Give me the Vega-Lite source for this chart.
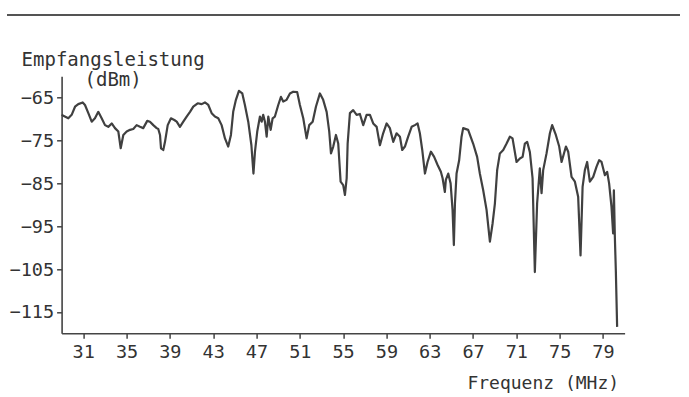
{
  "$schema": "https://vega.github.io/schema/vega-lite/v6.json",
  "width": 563,
  "height": 257,
  "autosize": "none",
  "padding": {"left": 61.6, "top": 76.3, "right": 64.4, "bottom": 63.7},
  "background": "white",
  "config": {
    "view": {"stroke": null},
    "axis": {
      "grid": false,
      "domainColor": "#444444",
      "domainWidth": 1.6,
      "tickColor": "#444444",
      "tickWidth": 1.5,
      "tickSize": 5,
      "labelColor": "#333333",
      "labelFont": "DejaVu Sans Mono",
      "labelFontSize": 18.5,
      "titleFont": "DejaVu Sans Mono",
      "titleFontSize": 18,
      "titleFontWeight": "normal",
      "titleColor": "#333333"
    }
  },
  "data": {"values": [
    {"f":29.0,"p":-69.0},{"f":29.16,"p":-69.2},{"f":29.62,"p":-69.8},{"f":29.93,"p":-69.0},{"f":30.24,"p":-67.1},{"f":30.54,"p":-66.5},{"f":30.95,"p":-66.1},{"f":31.16,"p":-66.7},{"f":31.47,"p":-68.6},{"f":31.78,"p":-70.6},
    {"f":32.08,"p":-69.8},{"f":32.39,"p":-68.3},{"f":32.70,"p":-69.8},{"f":33.01,"p":-71.4},{"f":33.31,"p":-71.8},{"f":33.63,"p":-71.0},{"f":33.93,"p":-72.1},{"f":34.24,"p":-72.9},{"f":34.46,"p":-76.8},{"f":34.70,"p":-73.7},
    {"f":35.01,"p":-72.9},{"f":35.32,"p":-72.5},{"f":35.62,"p":-72.3},{"f":35.93,"p":-71.4},{"f":36.24,"p":-71.8},{"f":36.54,"p":-72.1},{"f":36.91,"p":-70.4},{"f":37.16,"p":-70.6},{"f":37.47,"p":-71.4},{"f":37.78,"p":-72.1},
    {"f":37.93,"p":-72.3},{"f":38.09,"p":-73.7},{"f":38.18,"p":-76.8},{"f":38.39,"p":-77.2},{"f":38.55,"p":-75.3},{"f":38.80,"p":-71.4},{"f":39.10,"p":-69.8},{"f":39.41,"p":-70.2},{"f":39.63,"p":-70.6},{"f":39.93,"p":-71.8},
    {"f":40.24,"p":-70.6},{"f":40.55,"p":-69.4},{"f":40.86,"p":-68.3},{"f":41.16,"p":-67.1},{"f":41.57,"p":-66.3},{"f":41.94,"p":-66.5},{"f":42.24,"p":-66.1},{"f":42.55,"p":-66.7},{"f":42.86,"p":-68.6},{"f":43.16,"p":-69.4},
    {"f":43.47,"p":-69.8},{"f":43.78,"p":-71.4},{"f":44.09,"p":-74.5},{"f":44.39,"p":-76.4},{"f":44.64,"p":-73.7},{"f":44.85,"p":-68.3},{"f":45.10,"p":-65.5},{"f":45.38,"p":-63.4},{"f":45.69,"p":-64.0},{"f":45.93,"p":-66.7},
    {"f":46.24,"p":-70.6},{"f":46.53,"p":-76.1},{"f":46.72,"p":-82.7},{"f":46.86,"p":-77.6},{"f":47.07,"p":-72.9},{"f":47.32,"p":-69.4},{"f":47.48,"p":-70.6},{"f":47.62,"p":-69.0},{"f":47.78,"p":-70.6},{"f":47.94,"p":-74.1},
    {"f":48.09,"p":-69.4},{"f":48.31,"p":-72.5},{"f":48.49,"p":-69.8},{"f":48.70,"p":-69.4},{"f":49.01,"p":-66.7},{"f":49.26,"p":-64.8},{"f":49.47,"p":-65.9},{"f":49.78,"p":-65.5},{"f":50.09,"p":-64.0},{"f":50.39,"p":-63.6},
    {"f":50.76,"p":-63.7},{"f":51.01,"p":-66.7},{"f":51.32,"p":-69.8},{"f":51.63,"p":-74.5},{"f":51.87,"p":-71.4},{"f":52.19,"p":-70.6},{"f":52.49,"p":-67.1},{"f":52.86,"p":-64.0},{"f":53.16,"p":-65.5},{"f":53.48,"p":-68.3},
    {"f":53.72,"p":-72.9},{"f":53.88,"p":-78.0},{"f":54.09,"p":-76.4},{"f":54.34,"p":-73.7},{"f":54.55,"p":-75.7},{"f":54.77,"p":-84.6},{"f":55.01,"p":-85.4},{"f":55.17,"p":-87.7},{"f":55.33,"p":-83.8},{"f":55.42,"p":-75.7},
    {"f":55.63,"p":-68.6},{"f":55.93,"p":-67.9},{"f":56.25,"p":-69.0},{"f":56.55,"p":-68.8},{"f":56.86,"p":-71.4},{"f":57.17,"p":-69.0},{"f":57.48,"p":-69.0},{"f":57.78,"p":-71.0},{"f":58.10,"p":-71.8},{"f":58.40,"p":-76.1},
    {"f":58.70,"p":-73.3},{"f":59.02,"p":-71.0},{"f":59.32,"p":-72.1},{"f":59.63,"p":-75.3},{"f":59.94,"p":-73.3},{"f":60.25,"p":-74.1},{"f":60.46,"p":-77.2},{"f":60.71,"p":-76.4},{"f":61.01,"p":-74.1},{"f":61.33,"p":-71.8},
    {"f":61.63,"p":-71.4},{"f":61.88,"p":-71.0},{"f":62.09,"p":-73.3},{"f":62.31,"p":-77.2},{"f":62.56,"p":-82.7},{"f":62.80,"p":-80.0},{"f":63.11,"p":-77.6},{"f":63.41,"p":-78.8},{"f":63.73,"p":-80.7},{"f":64.03,"p":-82.3},
    {"f":64.19,"p":-83.8},{"f":64.40,"p":-87.0},{"f":64.49,"p":-84.2},{"f":64.71,"p":-82.7},{"f":64.93,"p":-85.0},{"f":65.11,"p":-91.2},{"f":65.23,"p":-99.4},{"f":65.33,"p":-89.7},{"f":65.48,"p":-82.7},{"f":65.72,"p":-79.6},
    {"f":65.94,"p":-74.1},{"f":66.09,"p":-72.1},{"f":66.55,"p":-72.5},{"f":67.01,"p":-75.7},{"f":67.38,"p":-78.8},{"f":67.63,"p":-82.7},{"f":67.94,"p":-86.6},{"f":68.25,"p":-91.2},{"f":68.56,"p":-98.6},{"f":68.81,"p":-94.3},
    {"f":69.02,"p":-89.7},{"f":69.23,"p":-81.9},{"f":69.48,"p":-78.0},{"f":69.79,"p":-77.2},{"f":70.10,"p":-75.7},{"f":70.40,"p":-74.1},{"f":70.65,"p":-74.5},{"f":71.02,"p":-80.0},{"f":71.33,"p":-79.2},{"f":71.58,"p":-78.8},
    {"f":71.79,"p":-75.7},{"f":72.00,"p":-75.3},{"f":72.25,"p":-77.7},{"f":72.50,"p":-83.8},{"f":72.71,"p":-105.7},{"f":72.92,"p":-89.7},{"f":73.17,"p":-81.5},{"f":73.33,"p":-87.3},{"f":73.48,"p":-81.9},{"f":73.79,"p":-78.0},
    {"f":74.10,"p":-73.3},{"f":74.31,"p":-71.4},{"f":74.65,"p":-73.7},{"f":74.96,"p":-76.4},{"f":75.18,"p":-80.0},{"f":75.58,"p":-76.4},{"f":75.79,"p":-77.6},{"f":76.10,"p":-83.5},{"f":76.41,"p":-84.6},{"f":76.71,"p":-88.1},
    {"f":76.93,"p":-101.8},{"f":77.12,"p":-85.8},{"f":77.33,"p":-81.9},{"f":77.54,"p":-80.0},{"f":77.79,"p":-84.6},{"f":78.10,"p":-83.5},{"f":78.41,"p":-81.1},{"f":78.65,"p":-79.6},{"f":78.87,"p":-80.0},{"f":79.18,"p":-83.1},
    {"f":79.39,"p":-82.3},{"f":79.57,"p":-85.0},{"f":79.79,"p":-90.5},{"f":79.94,"p":-96.7},{"f":80.01,"p":-86.6},{"f":80.10,"p":-97.5},{"f":80.19,"p":-105.3},{"f":80.31,"p":-118.5}
  ]},
  "layer": [
    {
      "mark": {"type": "line", "color": "#404040", "strokeWidth": 2.2, "strokeJoin": "round"},
      "encoding": {
        "x": {
          "field": "f", "type": "quantitative",
          "scale": {"domain": [29, 81], "nice": false, "zero": false},
          "axis": {
            "values": [31, 35, 39, 43, 47, 51, 55, 59, 63, 67, 71, 75, 79],
            "labelPadding": 4,
            "title": "Frequenz (MHz)",
            "titleAnchor": null,
            "titleAlign": "right",
            "titleBaseline": "alphabetic",
            "titleX": 557,
            "titleY": 55
          }
        },
        "y": {
          "field": "p", "type": "quantitative",
          "scale": {"domain": [-120, -60], "nice": false, "zero": false},
          "axis": {
            "values": [-65, -75, -85, -95, -105, -115],
            "labelPadding": 3,
            "title": ["Empfangsleistung", "(dBm)"],
            "titleAngle": 0,
            "titleAlign": "center",
            "titleBaseline": "alphabetic",
            "titleFontSize": 19,
            "titleLineHeight": 20,
            "titleX": 51,
            "titleY": -11
          }
        }
      }
    },
    {
      "mark": {"type": "rule", "color": "#555555", "strokeWidth": 1.5},
      "encoding": {
        "x": {"datum": 24.0, "type": "quantitative"},
        "x2": {"datum": 86.1},
        "y": {"datum": -45.7, "type": "quantitative"}
      }
    }
  ]
}
